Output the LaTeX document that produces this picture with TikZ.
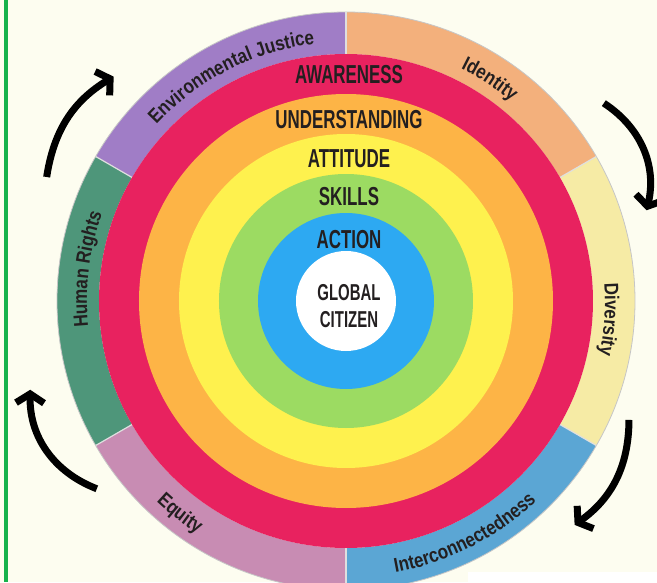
\documentclass[tikz,border=0pt]{standalone}
\usepackage{fontspec}
\setmainfont{Liberation Sans}
\newfontfamily\inelfont{Liberation Sans}[FakeStretch=0.65]
\newfontfamily\sectfont{Liberation Sans}[FakeStretch=0.85]
\usetikzlibrary{arrows.meta,decorations.text}

\definecolor{fundal}{HTML}{FDFDF0}
\definecolor{linieverde}{HTML}{17B24C}
\definecolor{mediu}{HTML}{A07DC6}
\definecolor{identitate}{HTML}{F3B07C}
\definecolor{diversitate}{HTML}{F6EBA5}
\definecolor{legatura}{HTML}{5BA6D4}
\definecolor{echitate}{HTML}{C88CB3}
\definecolor{drepturi}{HTML}{4E967A}
\definecolor{inelrosu}{HTML}{E8225F}
\definecolor{inelportocaliu}{HTML}{FDB446}
\definecolor{inelgalben}{HTML}{FEF14E}
\definecolor{inelverde}{HTML}{9CDB62}
\definecolor{inelalbastru}{HTML}{2DA9F2}
\definecolor{textinchis}{HTML}{231F20}

\begin{document}
\begin{tikzpicture}[x=1pt,y=1pt,
  inel/.style={font=\inelfont\bfseries\fontsize{26}{26}\selectfont,text=textinchis,inner sep=0pt},
  centru/.style={font=\inelfont\bfseries\fontsize{23}{27}\selectfont,text=textinchis,inner sep=0pt,align=center},
  separator/.style={draw=white!75!gray,line width=1.2pt},
  sageata/.style={line width=7pt,-{Straight Barb[length=9pt,width=28pt]}},
  eticheta/.style={decorate,decoration={text along path,text align=center,
      text={|\sectfont\bfseries\fontsize{20}{20}\selectfont\color{textinchis}|#1}}}]

  % fundal si marginea verde
  \fill[fundal] (-346,-281) rectangle (311,301);
  \useasboundingbox (-346,-281) rectangle (311,301);
  \clip (-346,-281) rectangle (311,301);
  \fill[linieverde] (-342,-281) rectangle (-338,301);
  \fill[white] (122,-271) rectangle (311,-281);

  % sectoarele exterioare
  \foreach \unghi/\cul in {30/identitate,90/mediu,150/drepturi,210/echitate,270/legatura,330/diversitate}
    \fill[\cul] (\unghi:247) arc[start angle=\unghi,end angle=\unghi+60,radius=247]
      -- (\unghi+60:289) arc[start angle=\unghi+60,end angle=\unghi,radius=289] -- cycle;
  \draw[gray!45,line width=0.8pt] (0,0) circle[radius=289];
  \foreach \unghi in {30,90,...,330}
    \draw[separator] (\unghi:247) -- (\unghi:289);

  % inelele colorate
  \foreach \raza/\cul in {247/inelrosu,207/inelportocaliu,167/inelgalben,127/inelverde,88/inelalbastru,50/white}
    \fill[\cul] (0,0) circle[radius=\raza];

  % textele inelelor
  \node[inel] (awareness) at (3,226) {AWARENESS};
  \node[inel] (understanding) at (3,181) {UNDERSTANDING};
  \node[inel] (attitude) at (3,142) {ATTITUDE};
  \node[inel] (skills) at (3,104) {SKILLS};
  \node[inel] (action) at (3,61) {ACTION};
  \node[centru] (cetatean) at (3,-5) {GLOBAL\\CITIZEN};

  % textele de pe sectoare
  \path[eticheta=Environmental Justice] (147:259) arc[start angle=147,end angle=87,radius=259];
  \path[eticheta=Identity] (87:259) arc[start angle=87,end angle=27,radius=259];
  \path[eticheta=Diversity] (26:259) arc[start angle=26,end angle=-34,radius=259];
  \path[eticheta=Human Rights] (203:259) arc[start angle=203,end angle=143,radius=259];
  \path[eticheta=Equity] (202:276) arc[start angle=202,end angle=262,radius=276];
  \path[eticheta=Interconnectedness] (262:276) arc[start angle=262,end angle=332,radius=276];

  % sagetile din jur
  \coordinate (c1) at (157.5:324); \coordinate (v1) at (136:323);
  \coordinate (c2) at (37.5:325);  \coordinate (v2) at (16.8:314);
  \coordinate (c3) at (-22.8:307); \coordinate (v3) at (-44.4:320);
  \coordinate (c4) at (217:312);   \coordinate (v4) at (195.7:328);
  \draw[sageata] (c1) to[bend left=25] (v1);
  \draw[sageata] (c2) to[bend left=35] (v2);
  \draw[sageata] (c3) to[bend left=27] (v3);
  \draw[sageata] (c4) to[bend left=35] (v4);
\end{tikzpicture}
\end{document}
